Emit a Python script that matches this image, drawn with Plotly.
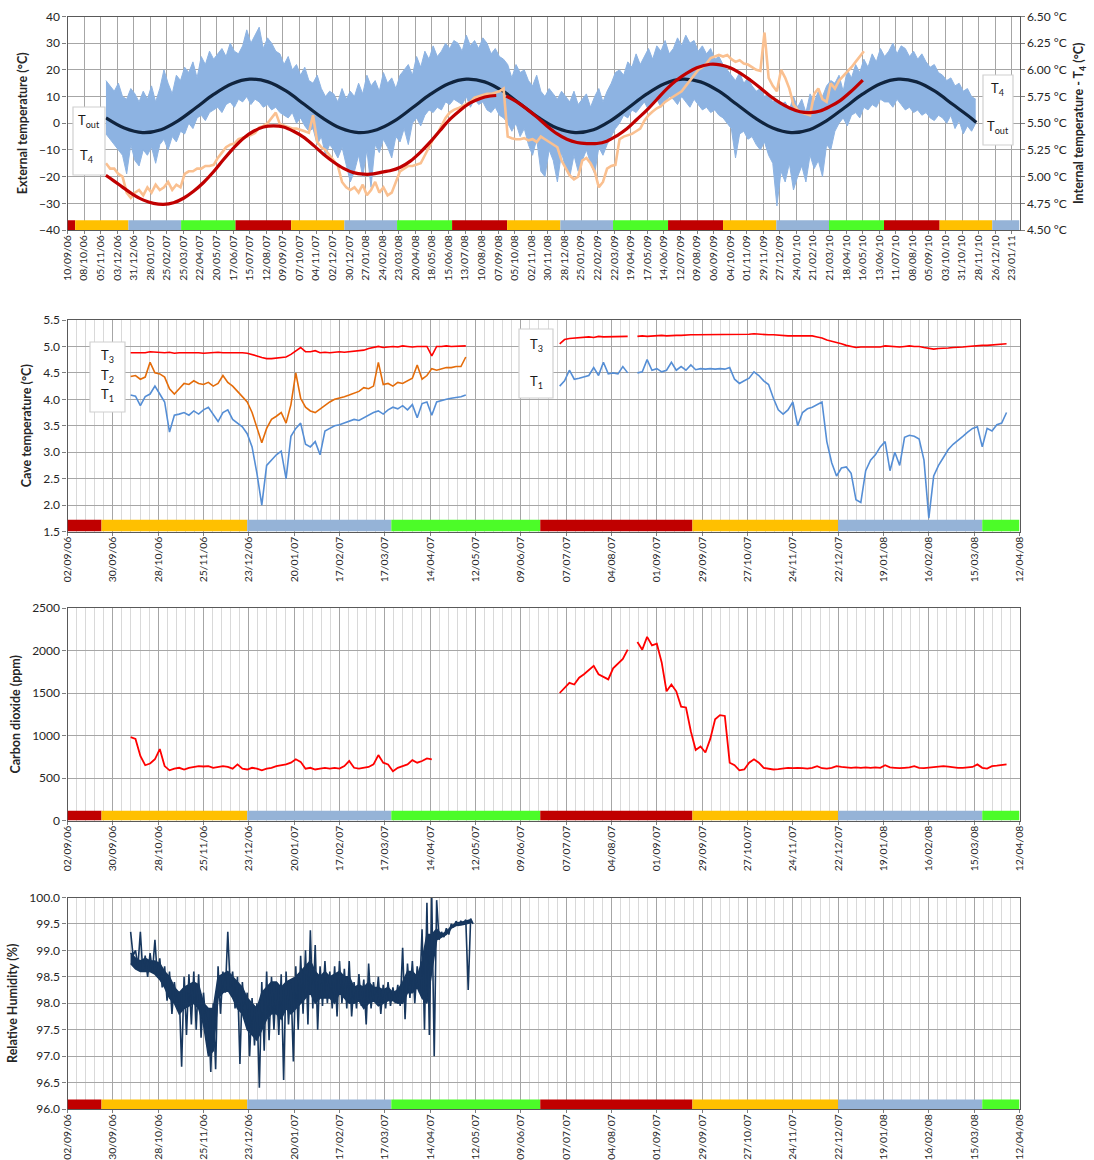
import pandas as pd
import plotly.graph_objects as go

W, H = 1094, 1160
DAY_MS = 86400000

# ---------------- external / internal temperature (2006-2011) ----------------
tout_start = "2006-11-14"          # weekly extremes of the outdoor logger (°C)
tout_week_high = [
    16, 14, 12, 15, 10, 9, 13,
    11, 8, 12, 9, 14, 8, 13, 20, 15, 11, 18, 16, 21,
    19, 23, 17, 25, 22, 27, 24, 26, 28, 25, 30, 27, 26,
    29, 35, 30, 33, 36, 28, 32, 30, 27, 26, 22, 25, 20,
    22, 18, 21, 16, 15, 18, 13, 10, 12, 11, 8, 13, 9,
    12, 10, 15, 11, 18, 14, 16, 12, 19, 15, 17, 13, 18,
    20, 22, 18, 25, 21, 27, 24, 29, 25, 27, 30, 28, 31,
    30, 27, 33, 29, 31, 28, 32, 30, 26, 28, 25, 24, 22,
    17, 22, 19, 20, 16, 14, 18, 12, 10, 13, 11, 9, 12,
    10, 8, 12, 7, 9, 11, 6, 10, 13, 8, 12, 15, 19,
    20, 18, 23, 21, 26, 22, 25, 28, 24, 29, 27, 31, 26,
    28, 32, 29, 33, 30, 31, 27, 29, 26, 28, 24, 25, 22,
    20, 18, 16, 19, 15, 17, 14, 12, 13, 10, 11, 8, 9,
    7, 8, 5, 10, 6, 9, 4, 11, 8, 12, 10, 14, 16,
    15, 18, 12, 20, 17, 22, 19, 24, 21, 26, 23, 28, 25,
    27, 30, 26, 29, 28, 25, 27, 24, 26, 23, 21, 22, 19,
    18, 16, 17, 14, 15, 12, 13, 10, 9,
]
tout_week_low = [
    -4, -6, -8, -10, -12, -19, -8,
    -14, -16, -10, -12, -9, -15, -8, -6, -10, -5, -7, -3, -4,
    0, -2, 2, 3, 1, 4, 5, 6, 4, 7, 8, 6, 9,
    8, 10, 7, 9, 8, 6, 7, 5, 6, 4, 3, 2, 4,
    0, 2, -1, -3, -2, -8, -5, -12, -8, -10, -13, -9, -15,
    -22, -18, -12, -20, -10, -24, -8, -11, -6, -9, -13, -5, -7,
    -2, -8, 0, 2, -1, 3, 5, 4, 6, 5, 8, 7, 9,
    8, 7, 10, 6, 9, 7, 8, 5, 4, 6, 3, 2, 0,
    -3, 0, -5, -2, -8, -12, -6, -18, -20, -10, -14, -22, -11,
    -17, -20, -12, -18, -14, -10, -15, -19, -9, -12, -8, -5, -2,
    0, 3, 2, 5, 4, 6, 8, 5, 7, 9, 6, 8, 10,
    9, 7, 10, 8, 6, 9, 7, 5, 6, 4, 5, 3, 2,
    0, -2, -13, -4, -3, -6, -5, -8, -10, -7, -12, -15, -31,
    -18, -22, -15, -25, -20, -16, -22, -12, -17, -14, -20, -8, -10,
    -3, 0, 2, -1, 3, 4, 2, 6, 5, 7, 6, 9, 8,
    8, 6, 9, 7, 5, 6, 4, 5, 3, 4, 2, 1, 3,
    2, 0, 3, -2, 1, -4, -1, -3, 0,
]

t4_start = "2006-11-14"            # weekly internal T4 readings (°C)
t4_week = [
    5.125, 5.075, 5.075, 5.025, 5.00, 4.85, 4.80,
    4.85, 4.875, 4.825, 4.90, 4.85, 4.925, 4.875, 4.90, 4.95, 4.875, 4.925, 4.90, 5.025,
    5.05, 5.05, 5.075, 5.075, 5.10, 5.10, 5.11, 5.175, 5.225, 5.275, 5.30, 5.31, 5.35,
    5.36, 5.375, 5.39, 5.41, 5.46, 5.475, 5.50, 5.55, 5.60, 5.49, 5.475, 5.46, 5.45,
    5.45, 5.44, 5.425, 5.41, 5.575, 5.325, 5.275, 5.25, 5.20, 5.15, 5.10, 4.95, 4.90,
    4.875, 4.90, 4.85, 4.925, 4.825, 4.875, 4.95, 4.85, 4.90, 4.825, 4.85, 4.95, 5.05,
    5.075, 5.10, 5.10, 5.11, 5.125, 5.20, 5.275, 5.35, 5.40, 5.475, 5.55, 5.60, 5.625,
    5.64, 5.66, 5.675, 5.70, 5.74, 5.75, 5.76, 5.775, 5.775, 5.79, 5.80, 5.825, 5.375,
    5.36, 5.35, 5.35, 5.36, 5.34, 5.35, 5.325, 5.375, 5.35, 5.325, 5.30, 5.275, 5.15,
    5.075, 5.01, 4.975, 5.00, 5.15, 5.175, 5.125, 5.05, 4.90, 4.95, 5.075, 5.10, 5.11,
    5.35, 5.375, 5.39, 5.40, 5.425, 5.45, 5.525, 5.575, 5.61, 5.64, 5.66, 5.70, 5.725,
    5.75, 5.775, 5.80, 5.85, 5.90, 5.95, 6.00, 6.025, 6.06, 6.11, 6.125, 6.14, 6.125,
    6.14, 6.10, 6.075, 6.09, 6.06, 6.05, 6.025, 6.00, 5.99, 6.35, 5.925, 5.85, 5.80,
    6.00, 5.925, 5.825, 5.675, 5.625, 5.60, 5.59, 5.575, 5.775, 5.825, 5.725, 5.70, 5.875,
    5.825, 5.90, 5.94, 5.975, 6.025, 6.075, 6.125, 6.175,
]

# seasonal model of the outdoor temperature (°C), mid-month values
tout_fit_first = ("2006-11-14", 2.0)
tout_fit_monthly = [
    -1.8, -3.5, -2.4, 0.8, 5.8, 10.8, 14.8, 16.5, 15.5, 12.0, 7.1, 2.0,   # Dec 06 - Nov 07
    -1.8, -3.5, -2.4, 0.8, 5.8, 10.8, 14.8, 16.5, 15.5, 12.0, 7.1, 2.0,   # Dec 07 - Nov 08
    -1.8, -3.5, -2.4, 0.8, 5.8, 10.8, 14.8, 16.5, 15.5, 12.0, 7.1, 2.0,   # Dec 08 - Nov 09
    -1.8, -3.5, -2.4, 0.8, 5.8, 10.8, 14.8, 16.5, 15.5, 12.0, 7.1, 2.0,   # Dec 09 - Nov 10
]
tout_fit_last = ("2010-11-24", 0.3)

# seasonal model of T4 (°C); days counted from 10/09/06
t4_fit_day_a = [64.8, 77.7, 94.7, 111.6, 128.5, 145.4, 162.3, 179.2, 196, 213, 229.9,
                246.8, 263.7, 280.6, 297.5, 314.4, 331.3, 348.2, 365, 382, 398.9, 415.8,
                432.7, 449.6, 466.5, 483.4, 500.3, 517.2, 534.1, 545, 562.5, 579.4,
                596.3, 613.2, 630.1, 647, 663.8, 680.7, 697.6, 714.5, 724.6]
t4_fit_val_a = [5.0125, 4.9625, 4.895, 4.83, 4.78, 4.75, 4.74, 4.755, 4.7975, 4.8625,
                4.945, 5.045, 5.16, 5.2675, 5.36, 5.425, 5.465, 5.475, 5.465, 5.425,
                5.37, 5.2925, 5.21, 5.1375, 5.0775, 5.0375, 5.0225, 5.025, 5.045, 5.055,
                5.0875, 5.145, 5.2275, 5.325, 5.435, 5.54, 5.6225, 5.69, 5.7325, 5.755, 5.76]
t4_fit_day_b = [741.5, 759.5, 776.4, 793.3, 810.2, 827.1, 844, 860.9, 877.8, 894.7,
                911.5, 928.4, 945.3, 962.2, 979.1, 996, 1012.9, 1029.8, 1046.7, 1063.6,
                1086, 1103.1, 1120, 1136.9, 1153.8, 1170.6, 1187.5, 1204.4, 1221.3,
                1238.2, 1255.1, 1272, 1288.9, 1305.8, 1322.7, 1344.1]
t4_fit_val_b = [5.755, 5.70, 5.6325, 5.5575, 5.475, 5.4025, 5.35, 5.32, 5.31, 5.31,
                5.3325, 5.3825, 5.4475, 5.535, 5.6225, 5.7225, 5.8225, 5.905, 5.97, 6.02,
                6.0525, 6.0475, 6.02, 5.97, 5.905, 5.8325, 5.755, 5.69, 5.64, 5.6075,
                5.60, 5.615, 5.6575, 5.7125, 5.79, 5.905]

# ---------------- cave monitoring 2006-2008 (3-day readings) ----------------
cave_start_a = "2006-10-11"
cave_start_b = "2007-07-03"
t3_a = [4.88, 4.88, 4.89, 4.88, 4.90, 4.89, 4.88, 4.88, 4.89, 4.87,
        4.88, 4.88, 4.89, 4.88, 4.88, 4.87, 4.88, 4.88, 4.89, 4.88,
        4.88, 4.89, 4.88, 4.88, 4.87, 4.85, 4.82, 4.79, 4.77, 4.77,
        4.78, 4.79, 4.80, 4.85, 4.92, 4.98, 4.90, 4.90, 4.92, 4.88,
        4.89, 4.88, 4.89, 4.90, 4.89, 4.90, 4.91, 4.92, 4.93, 4.96,
        4.98, 5.00, 4.98, 4.99, 5.00, 4.99, 5.01, 5.00, 4.99, 5.00,
        5.00, 5.00, 4.82, 5.00, 5.00, 5.01, 5.00, 5.00, 5.00, 5.01]
t2_a = [4.43, 4.45, 4.38, 4.42, 4.70, 4.50, 4.48, 4.42, 4.20, 4.10,
        4.20, 4.30, 4.28, 4.35, 4.30, 4.28, 4.32, 4.25, 4.30, 4.45,
        4.32, 4.25, 4.15, 4.05, 3.95, 3.75, 3.45, 3.18, 3.45, 3.62,
        3.68, 3.75, 3.55, 3.90, 4.50, 4.02, 3.85, 3.78, 3.75, 3.82,
        3.88, 3.95, 4.00, 4.02, 4.05, 4.08, 4.12, 4.15, 4.22, 4.20,
        4.25, 4.70, 4.28, 4.30, 4.25, 4.32, 4.30, 4.35, 4.40, 4.65,
        4.38, 4.45, 4.58, 4.55, 4.57, 4.60, 4.60, 4.62, 4.62, 4.80]
t1_a = [4.08, 4.06, 3.88, 4.05, 4.10, 4.25, 4.10, 3.95, 3.38, 3.70,
        3.72, 3.75, 3.70, 3.78, 3.72, 3.80, 3.85, 3.72, 3.58, 3.75,
        3.80, 3.62, 3.55, 3.48, 3.35, 3.10, 2.60, 2.00, 2.75, 2.85,
        2.95, 3.02, 2.50, 3.30, 3.45, 3.55, 3.15, 3.10, 3.20, 2.95,
        3.40, 3.45, 3.50, 3.52, 3.55, 3.58, 3.62, 3.60, 3.65, 3.70,
        3.75, 3.78, 3.72, 3.80, 3.85, 3.82, 3.88, 3.80, 3.90, 3.65,
        3.92, 3.95, 3.70, 3.95, 3.98, 4.00, 4.02, 4.03, 4.05, 4.08]
t3_b = [5.05, 5.13, 5.15, 5.16, 5.17, 5.17, 5.18, 5.17, 5.19, 5.18,
        5.18, 5.19, 5.19, 5.19, 5.19, None, 5.19, 5.20, 5.19, 5.20,
        5.21, 5.21, 5.20, 5.21, 5.21, 5.21, 5.22, 5.22, 5.22, 5.22,
        5.22, 5.23, 5.22, 5.22, 5.23, 5.22, 5.23, 5.23, 5.23, 5.23,
        5.24, 5.23, 5.23, 5.22, 5.22, 5.21, 5.21, 5.20, 5.20, 5.20,
        5.21, 5.20, 5.20, 5.18, 5.16, 5.12, 5.10, 5.07, 5.05, 5.02,
        5.00, 4.98, 4.99, 4.99, 5.00, 5.00, 4.99, 5.01, 5.00, 4.99,
        4.99, 5.00, 5.01, 5.00, 5.00, 4.98, 4.96, 4.95, 4.96, 4.96,
        4.97, 4.98, 4.98, 4.99, 5.00, 5.01, 5.01, 5.02, 5.02, 5.03,
        5.03, 5.04, 5.05]
t1_b = [4.25, 4.35, 4.55, 4.38, 4.40, 4.42, 4.45, 4.60, 4.45, 4.70,
        4.48, 4.50, 4.48, 4.62, 4.50, None, 4.50, 4.52, 4.75, 4.55,
        4.58, 4.52, 4.55, 4.70, 4.55, 4.62, 4.55, 4.65, 4.56, 4.58,
        4.57, 4.58, 4.57, 4.58, 4.57, 4.60, 4.38, 4.30, 4.35, 4.40,
        4.52, 4.45, 4.35, 4.28, 4.02, 3.80, 3.72, 3.80, 3.95, 3.50,
        3.75, 3.82, 3.85, 3.90, 3.95, 3.20, 2.80, 2.55, 2.70, 2.72,
        2.60, 2.10, 2.05, 2.65, 2.85, 2.95, 3.10, 3.20, 2.65, 3.00,
        2.75, 3.28, 3.32, 3.30, 3.25, 2.85, 1.75, 2.55, 2.75, 2.90,
        3.05, 3.15, 3.22, 3.30, 3.38, 3.45, 3.48, 3.10, 3.45, 3.40,
        3.52, 3.55, 3.75]

co2_a = [980, 960, 760, 650, 670, 720, 840, 640, 590, 610,
         620, 600, 620, 630, 640, 635, 640, 620, 630, 640,
         630, 610, 660, 610, 600, 620, 610, 590, 610, 620,
         640, 650, 660, 680, 720, 690, 610, 620, 600, 610,
         620, 610, 620, 610, 640, 700, 620, 610, 620, 630,
         660, 770, 680, 660, 580, 620, 640, 660, 710, 680,
         700, 730, 720]
co2_b = [1500, 1560, 1620, 1600, 1680, 1720, 1770, 1820, 1720, 1690,
         1660, 1790, 1840, 1900, 2010, None, 2100, 2010, 2160, 2060,
         2080, 1860, 1520, 1600, 1520, 1340, 1330, 1050, 830, 870,
         800, 960, 1190, 1240, 1230, 680, 650, 590, 600, 680,
         720, 680, 620, 610, 600, 605, 610, 620, 615, 620,
         615, 610, 620, 640, 615, 610, 620, 640, 630, 625,
         620, 625, 620, 625, 620, 625, 620, 650, 625, 620,
         615, 620, 625, 640, 620, 615, 620, 625, 630, 640,
         635, 625, 620, 620, 625, 630, 660, 620, 610, 640,
         645, 650, 660]

# relative humidity: 3-day extremes and the usual (core) range, in %
rh_high = [99.35, 99.00, 99.35, 98.90, 98.95, 99.20, 98.85, 98.70, 98.60, 98.40,
           98.20, 98.50, 98.55, 98.60, 98.55, 98.20, 97.90, 98.00, 98.70, 98.60,
           99.35, 98.60, 98.50, 98.40, 98.20, 98.10, 98.00, 98.40, 98.60, 98.50,
           98.40, 98.55, 98.60, 98.40, 98.70, 98.90, 99.00, 99.38, 99.10, 98.70,
           98.80, 98.60, 98.70, 98.80, 98.65, 98.80, 98.40, 98.55, 98.45, 98.75,
           98.40, 98.50, 98.35, 98.40, 98.30, 98.35, 99.05, 98.75, 98.80, 98.70,
           99.40, 99.90, 100.00, 99.95, 99.35, 99.42, 99.50, 99.55, 99.55, 99.58,
           99.60]
rh_low = [98.90, 98.70, 98.60, 98.50, 98.60, 98.50, 98.30, 98.05, 97.80, 98.00,
          96.80, 97.40, 97.60, 97.50, 97.35, 97.60, 96.70, 96.75, 97.80, 98.20,
          98.30, 97.90, 96.85, 97.80, 97.00, 97.20, 96.40, 97.10, 97.30, 97.50,
          97.40, 96.55, 97.60, 96.90, 97.50, 97.80, 97.60, 97.90, 97.50, 97.95,
          98.00, 97.90, 97.75, 98.00, 97.90, 97.75, 97.90, 97.95, 97.60, 97.90,
          98.00, 97.80, 97.90, 97.95, 98.00, 97.95, 97.70, 98.10, 98.00, 98.20,
          97.50, 97.40, 97.00, 99.20, 99.25, 99.30, 99.45, 99.48, 99.50, 98.25,
          99.50]
rh_core_high = [98.95, 98.85, 98.80, 98.85, 98.80, 98.80, 98.75, 98.60, 98.50, 98.30,
                98.20, 98.30, 98.35, 98.40, 98.35, 98.00, 97.90, 97.90, 98.50, 98.55,
                98.60, 98.50, 98.40, 98.30, 98.10, 98.00, 97.90, 98.20, 98.30, 98.40,
                98.40, 98.30, 98.40, 98.45, 98.50, 98.60, 98.70, 98.80, 98.60, 98.50,
                98.60, 98.50, 98.55, 98.60, 98.50, 98.50, 98.30, 98.35, 98.30, 98.40,
                98.30, 98.30, 98.25, 98.30, 98.20, 98.25, 98.40, 98.60, 98.60, 98.50,
                98.80, 99.30, 99.30, 99.40, 99.30, 99.35, 99.45, 99.52, 99.53, 99.55,
                99.58]
rh_core_low = [98.75, 98.65, 98.60, 98.60, 98.60, 98.55, 98.45, 98.30, 98.10, 98.00,
               97.80, 97.90, 97.95, 98.00, 97.90, 97.60, 97.00, 97.10, 98.10, 98.20,
               98.25, 98.10, 97.90, 97.80, 97.50, 97.40, 97.30, 97.50, 97.70, 97.80,
               97.80, 97.70, 97.90, 97.80, 97.90, 98.00, 98.10, 98.20, 98.00, 98.10,
               98.10, 98.10, 98.00, 98.20, 98.10, 98.00, 98.00, 98.05, 97.90, 98.00,
               98.05, 97.95, 98.00, 98.05, 98.05, 98.00, 98.00, 98.20, 98.20, 98.30,
               98.10, 98.00, 98.60, 99.20, 99.25, 99.30, 99.42, 99.47, 99.48, 99.50,
               99.52]

# astronomical seasons used for the coloured strip under each panel
season_edges = ["2006-06-21", "2006-09-23", "2006-12-22", "2007-03-21", "2007-06-21",
                "2007-09-23", "2007-12-22", "2008-03-20", "2008-06-21", "2008-09-22",
                "2008-12-21", "2009-03-20", "2009-06-21", "2009-09-22", "2009-12-21",
                "2010-03-20", "2010-06-21", "2010-09-23", "2010-12-21", "2011-03-20"]
season_names = ["summer", "autumn", "winter", "spring"]
season_colors = {"summer": "#C00000", "autumn": "#FFC000",
                 "winter": "#95B3D7", "spring": "#4CFC28"}

# ---------------------------------------------------------------------------
FONT = "Lato"
TXT = "#262626"
TOUT_BLUE = "#8DB3E2"
RH_NAVY = "#17375E"


def weekly(start, n, offset_days=0.0):
    return [pd.Timestamp(start) + pd.Timedelta(days=7 * i + offset_days) for i in range(n)]


def every3(start, n, offset_days=0.0):
    return [pd.Timestamp(start) + pd.Timedelta(days=3 * i + offset_days) for i in range(n)]


def interleave(xa, ya, xb, yb):
    xs, ys = [], []
    for p, q, r, s in zip(xa, ya, xb, yb):
        xs += [p, r]
        ys += [q, s]
    return xs, ys


fig = go.Figure()

# panel 1: outdoor range drawn as a shaded band between weekly extremes
wx = weekly(tout_start, len(tout_week_high))
fig.add_trace(go.Scatter(x=wx, y=tout_week_high, mode="lines",
                         line=dict(color=TOUT_BLUE, width=1),
                         xaxis="x", yaxis="y", showlegend=False))
fig.add_trace(go.Scatter(x=wx, y=tout_week_low, mode="lines",
                         line=dict(color=TOUT_BLUE, width=1), fill="tonexty",
                         fillcolor=TOUT_BLUE, xaxis="x", yaxis="y", showlegend=False))

fig.add_trace(go.Scatter(x=weekly(t4_start, len(t4_week)), y=t4_week, mode="lines",
                         line=dict(color="#FAC090", width=2.6),
                         xaxis="x", yaxis="y5", showlegend=False))

fit_x = [pd.Timestamp(tout_fit_first[0])]
fit_x += list(pd.date_range("2006-12-01", periods=len(tout_fit_monthly), freq="MS")
              + pd.Timedelta(days=14))
fit_x += [pd.Timestamp(tout_fit_last[0])]
fit_y = [tout_fit_first[1]] + tout_fit_monthly + [tout_fit_last[1]]
fig.add_trace(go.Scatter(x=fit_x, y=fit_y, mode="lines",
                         line=dict(color="#10243E", width=3.2, shape="spline"),
                         xaxis="x", yaxis="y", showlegend=False))

origin1 = pd.Timestamp("2006-09-10")
for days, vals in ((t4_fit_day_a, t4_fit_val_a), (t4_fit_day_b, t4_fit_val_b)):
    fig.add_trace(go.Scatter(x=[origin1 + pd.Timedelta(days=d) for d in days], y=vals,
                             mode="lines", line=dict(color="#C00000", width=3.2, shape="spline"),
                             xaxis="x", yaxis="y5", showlegend=False))

# panel 2 ---------------------------------------------------------------
xa = every3(cave_start_a, len(t3_a))
xb = every3(cave_start_b, len(t3_b))
fig.add_trace(go.Scatter(x=xa, y=t1_a, mode="lines", line=dict(color="#558ED5", width=1.6),
                         xaxis="x2", yaxis="y2", showlegend=False))
fig.add_trace(go.Scatter(x=xb, y=t1_b, mode="lines", line=dict(color="#558ED5", width=1.6),
                         xaxis="x2", yaxis="y2", showlegend=False, connectgaps=False))
fig.add_trace(go.Scatter(x=xa, y=t2_a, mode="lines", line=dict(color="#E46C0A", width=1.6),
                         xaxis="x2", yaxis="y2", showlegend=False))
fig.add_trace(go.Scatter(x=xa, y=t3_a, mode="lines", line=dict(color="#FF0000", width=1.6),
                         xaxis="x2", yaxis="y2", showlegend=False))
fig.add_trace(go.Scatter(x=xb, y=t3_b, mode="lines", line=dict(color="#FF0000", width=1.6),
                         xaxis="x2", yaxis="y2", showlegend=False, connectgaps=False))

# panel 3 ---------------------------------------------------------------
fig.add_trace(go.Scatter(x=every3(cave_start_a, len(co2_a)), y=co2_a, mode="lines",
                         line=dict(color="#FF0000", width=1.8),
                         xaxis="x3", yaxis="y3", showlegend=False))
fig.add_trace(go.Scatter(x=every3(cave_start_b, len(co2_b)), y=co2_b, mode="lines",
                         line=dict(color="#FF0000", width=1.8), connectgaps=False,
                         xaxis="x3", yaxis="y3", showlegend=False))

# panel 4: core humidity band plus the short-lived excursions ------------
rc = every3(cave_start_a, len(rh_core_high))
fig.add_trace(go.Scatter(x=rc, y=rh_core_high, mode="lines",
                         line=dict(color=RH_NAVY, width=1.5),
                         xaxis="x4", yaxis="y4", showlegend=False))
fig.add_trace(go.Scatter(x=rc, y=rh_core_low, mode="lines",
                         line=dict(color=RH_NAVY, width=1.5), fill="tonexty",
                         fillcolor=RH_NAVY, xaxis="x4", yaxis="y4", showlegend=False))
rx, ry = interleave(every3(cave_start_a, len(rh_high)), rh_high,
                    every3(cave_start_a, len(rh_low), 1.5), rh_low)
fig.add_trace(go.Scatter(x=rx, y=ry, mode="lines", line=dict(color=RH_NAVY, width=1.6),
                         xaxis="x4", yaxis="y4", showlegend=False))

# ---------------------------------------------------------------------------
XD = [67.5 / W, 1019.5 / W]


def ydom(top, bottom):
    return [1 - bottom / H, 1 - top / H]


xtickfont = dict(family=FONT, size=10.4, color=TXT)
ytickfont = dict(family=FONT, size=12, color=TXT)
titlefont = dict(family=FONT, size=12.5, color=TXT, weight="bold")


def xaxis_cfg(anchor, start, end, minor):
    cfg = dict(domain=XD, anchor=anchor, type="date", range=[start, end],
               tick0=start, dtick=28 * DAY_MS, tickformat="%d/%m/%y", tickangle=-90,
               tickfont=xtickfont, ticklabelstandoff=-3,
               showgrid=True, gridcolor="#A6A6A6", gridwidth=1,
               ticks="outside", ticklen=3, tickcolor="#7F7F7F", automargin=False,
               showline=True, linecolor="#595959", linewidth=1.2, mirror=True,
               zeroline=False)
    if minor:
        cfg["minor"] = dict(tick0=start, dtick=28 * DAY_MS / 5, showgrid=True,
                            gridcolor="#D9D9D9", gridwidth=1, ticks="")
    return cfg


def yaxis_cfg(anchor, dom, rng, dtick, fmt, title, standoff):
    return dict(domain=dom, anchor=anchor, range=rng, dtick=dtick, tick0=rng[0],
                tickformat=fmt, tickfont=ytickfont, automargin=False,
                title=dict(text=title, font=titlefont, standoff=standoff),
                showgrid=True, gridcolor="#A6A6A6", gridwidth=1,
                ticks="outside", ticklen=4, tickcolor="#7F7F7F",
                showline=True, linecolor="#595959", linewidth=1.2, mirror=True,
                zeroline=False)


d1 = ydom(16.5, 230)
d2 = ydom(320, 531.5)
d3 = ydom(608, 820.5)
d4 = ydom(897.5, 1109)

fig.update_layout(
    width=W, height=H, margin=dict(l=0, r=0, t=0, b=0),
    paper_bgcolor="white", plot_bgcolor="white",
    font=dict(family=FONT, color=TXT),
    xaxis=xaxis_cfg("y", "2006-09-10", "2011-02-05", False),
    yaxis=yaxis_cfg("x", d1, [-40, 40], 10, "d", "External temperature (°C)", 8),
    yaxis5=dict(overlaying="y", side="right", anchor="x", range=[4.5, 6.5], dtick=0.25,
                tick0=4.5, tickformat=".2f", ticksuffix=" °C", tickfont=ytickfont,
                automargin=False,
                title=dict(text="Internal temperature - T<sub>4</sub> (°C)",
                           font=titlefont, standoff=8),
                showgrid=False, zeroline=False, ticks="outside", ticklen=4,
                tickcolor="#7F7F7F"),
    xaxis2=xaxis_cfg("y2", "2006-09-02", "2008-04-12", True),
    yaxis2=yaxis_cfg("x2", d2, [1.5, 5.5], 0.5, ".1f", "Cave temperature (°C)", 8),
    xaxis3=xaxis_cfg("y3", "2006-09-02", "2008-04-12", True),
    yaxis3=yaxis_cfg("x3", d3, [0, 2500], 500, "d", "Carbon dioxide (ppm)", 8),
    xaxis4=xaxis_cfg("y4", "2006-09-02", "2008-04-12", True),
    yaxis4=yaxis_cfg("x4", d4, [96, 100], 0.5, ".1f", "Relative Humidity (%)", 8),
)

# coloured season strips along the bottom of every panel
strips = [("x", "y", "2006-09-10", "2011-02-05", -40, -36.3),
          ("x2", "y2", "2006-09-02", "2008-04-12", 1.5, 1.72),
          ("x3", "y3", "2006-09-02", "2008-04-12", 0, 115),
          ("x4", "y4", "2006-09-02", "2008-04-12", 96, 96.18)]
shapes = []
for xr, yr, lo, hi, yb, yt in strips:
    lo_t, hi_t = pd.Timestamp(lo), pd.Timestamp(hi)
    for i in range(len(season_edges) - 1):
        a, b = pd.Timestamp(season_edges[i]), pd.Timestamp(season_edges[i + 1])
        a, b = max(a, lo_t), min(b, hi_t)
        if a >= b:
            continue
        shapes.append(dict(type="rect", xref=xr, yref=yr, x0=a, x1=b, y0=yb, y1=yt,
                           fillcolor=season_colors[season_names[i % 4]],
                           line=dict(width=0), layer="above"))


def box(x0, y0, x1, y1):
    shapes.append(dict(type="rect", xref="paper", yref="paper",
                       x0=x0 / W, x1=x1 / W, y0=1 - y1 / H, y1=1 - y0 / H,
                       fillcolor="white", line=dict(color="#D0D0D0", width=1.2),
                       layer="above"))


box(73, 107, 105, 175)
box(983, 75, 1013, 145)
box(90, 342, 125, 412)
box(519, 329, 553, 398)
fig.update_layout(shapes=shapes)

labels = [("T<sub>out</sub>", 89, 121), ("T<sub>4</sub>", 87, 156),
          ("T<sub>4</sub>", 998, 89), ("T<sub>out</sub>", 998, 127),
          ("T<sub>3</sub>", 107, 356), ("T<sub>2</sub>", 107, 376), ("T<sub>1</sub>", 107, 395),
          ("T<sub>3</sub>", 536, 345), ("T<sub>1</sub>", 536, 382)]
for text, x, y in labels:
    fig.add_annotation(text=text, x=x / W, y=1 - y / H, xref="paper", yref="paper",
                       showarrow=False, font=dict(family=FONT, size=13, color="#1A1A1A"),
                       xanchor="center", yanchor="middle")

fig.write_html("out.html")
